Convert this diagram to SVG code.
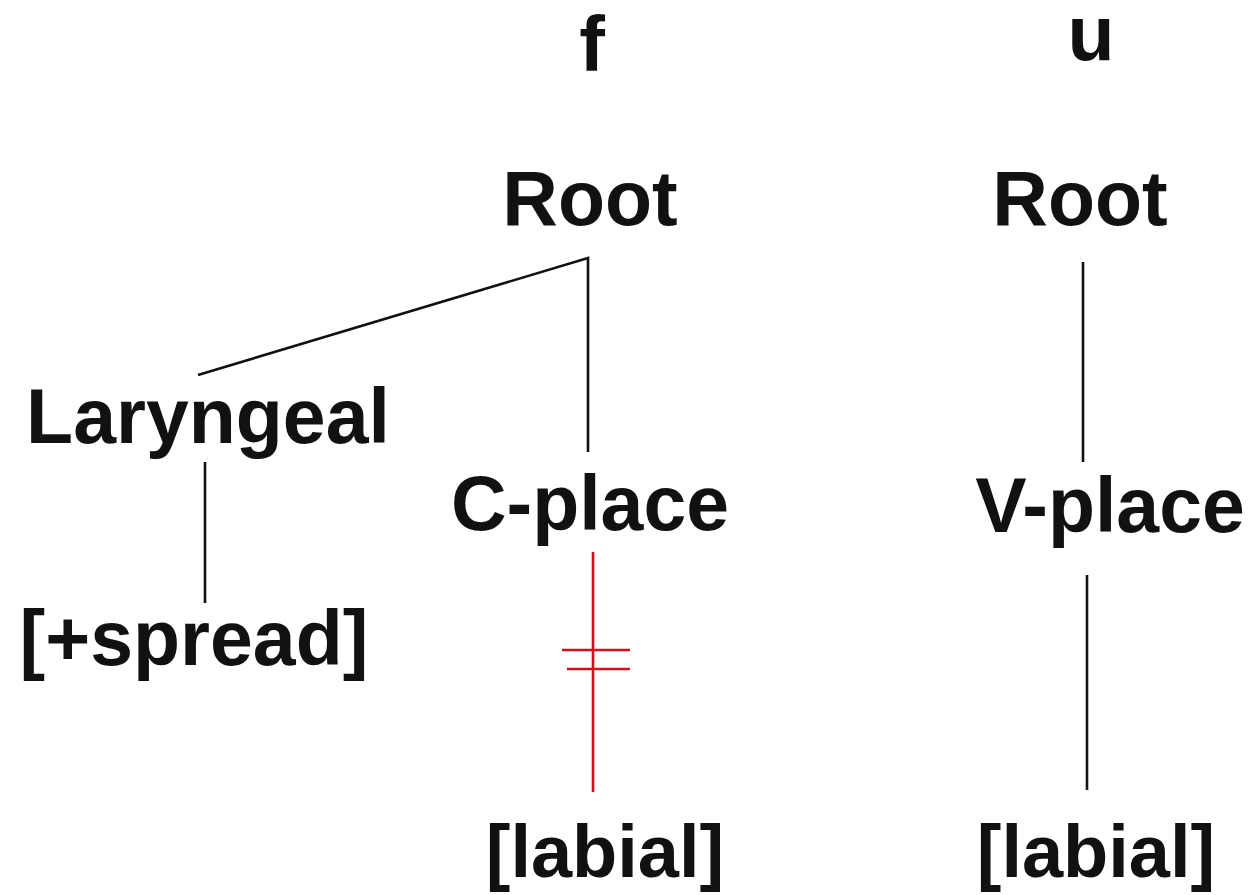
<svg xmlns="http://www.w3.org/2000/svg" width="1253" height="895" viewBox="0 0 1253 895">
  <style>
    .lbl { font-family: "Liberation Sans", Arial, sans-serif; font-weight: bold; font-size: 77px; fill: #111; }
    .feat { font-size: 74px; }
    .edge { stroke: #111; stroke-width: 2.6; fill: none; }
    .cut { stroke: #d0101a; stroke-width: 2.6; fill: none; }
  </style>
  <rect width="1253" height="895" fill="#fff"/>

  <!-- branches of the two feature trees -->
  <g id="connectors">
    <polyline class="edge" points="198,375 588,258 588,452"/>
    <line class="edge" x1="205" y1="462" x2="205" y2="603"/>
    <line class="cut" x1="593" y1="552" x2="593" y2="792"/>
    <line class="cut" x1="562" y1="650" x2="630" y2="650"/>
    <line class="cut" x1="567" y1="669" x2="630" y2="669"/>
    <line class="edge" x1="1083" y1="262" x2="1083" y2="462"/>
    <line class="edge" x1="1087" y1="575" x2="1087" y2="790"/>
  </g>

  <!-- segment f -->
  <g id="seg-f"><text class="lbl" x="592" y="71" text-anchor="middle">f</text></g>
  <g id="root-f"><text class="lbl" x="590" y="225" text-anchor="middle">Root</text></g>
  <g id="laryngeal"><text class="lbl" x="208" y="443" text-anchor="middle">Laryngeal</text></g>
  <g id="spread"><text class="lbl" x="194" y="665" text-anchor="middle">[+spread]</text></g>
  <g id="c-place"><text class="lbl" x="590" y="530" text-anchor="middle">C-place</text></g>
  <g id="labial-f"><text class="lbl feat" x="605" y="877" text-anchor="middle">[labial]</text></g>

  <!-- segment u -->
  <g id="seg-u"><text class="lbl" x="1091" y="60" text-anchor="middle">u</text></g>
  <g id="root-u"><text class="lbl" x="1080" y="225" text-anchor="middle">Root</text></g>
  <g id="v-place"><text class="lbl" x="1110" y="532" text-anchor="middle">V-place</text></g>
  <g id="labial-u"><text class="lbl feat" x="1096" y="877" text-anchor="middle">[labial]</text></g>
</svg>
